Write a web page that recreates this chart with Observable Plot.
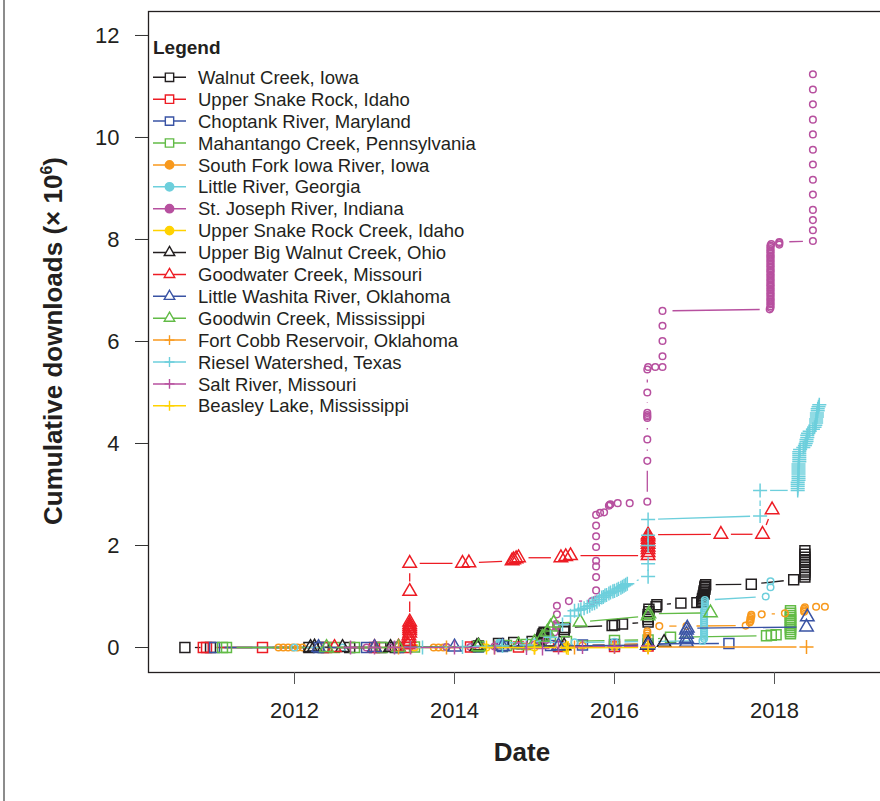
<!DOCTYPE html>
<html><head><meta charset="utf-8">
<script src="https://cdn.jsdelivr.net/npm/d3@7"></script>
<script src="https://cdn.jsdelivr.net/npm/@observablehq/plot@0.6"></script>
<style>
body{margin:0;background:#fff;overflow:hidden}
#wrap{position:relative;width:880px;height:801px;overflow:hidden}
#border{position:absolute;left:3px;top:0;width:2px;height:801px;background:#8c8c8c}
#wrap svg{overflow:hidden;display:block}
</style></head><body><div id="wrap"><div id="border"></div></div>
<script>
// ---- data (decimal year, cumulative downloads in millions) ----
const siteNames = ["Walnut Creek, Iowa","Upper Snake Rock, Idaho","Choptank River, Maryland","Mahantango Creek, Pennsylvania","South Fork Iowa River, Iowa","Little River, Georgia","St. Joseph River, Indiana","Upper Snake Rock Creek, Idaho","Upper Big Walnut Creek, Ohio","Goodwater Creek, Missouri","Little Washita River, Oklahoma","Goodwin Creek, Mississippi","Fort Cobb Reservoir, Oklahoma","Riesel Watershed, Texas","Salt River, Missouri","Beasley Lake, Mississippi"];
const siteColors = ["#231f20","#ed1c24","#3953a4","#62bb46","#f8991d","#6dcfdc","#b7509f","#ffd200","#231f20","#ed1c24","#3953a4","#62bb46","#f8991d","#6dcfdc","#b7509f","#ffd200"];
const siteSymbols = ["square","square","square","square","circle","circle","circle","circle","triangle","triangle","triangle","triangle","plus","plus","plus","plus"];
const xTicks = [2012, 2014, 2016, 2018];
const yTicks = [0, 2, 4, 6, 8, 10, 12];

const walnutCreek = [[2010.63,0],[2010.95,0],[2012.18,0],[2012.36,0],[2012.69,0],[2013.08,0],[2013.26,0],[2014.28,0.02],[2014.3,0.03],[2014.55,0.08],[2014.74,0.1],[2014.97,0.12],[2015.08,0.15],[2015.09,0.18],[2015.1,0.21],[2015.1,0.24],[2015.11,0.27],[2015.12,0.3],[2015.37,0.31],[2015.37,0.35],[2015.38,0.39],[2015.97,0.43],[2016.0,0.44],[2016.1,0.46],[2016.42,0.5],[2016.42,0.55],[2016.42,0.6],[2016.42,0.65],[2016.43,0.7],[2016.43,0.75],[2016.52,0.8],[2016.53,0.84],[2016.83,0.87],[2017.03,0.88],[2017.09,0.9],[2017.1,0.93],[2017.1,0.96],[2017.11,0.99],[2017.11,1.02],[2017.12,1.05],[2017.12,1.08],[2017.12,1.11],[2017.13,1.14],[2017.13,1.17],[2017.13,1.2],[2017.14,1.23],[2017.71,1.24],[2018.24,1.33],[2018.38,1.38],[2018.38,1.43],[2018.38,1.48],[2018.38,1.52],[2018.38,1.57],[2018.38,1.62],[2018.38,1.67],[2018.38,1.72],[2018.38,1.77],[2018.38,1.83],[2018.38,1.9]];
const upperSnakeRock = [[2010.86,0],[2010.9,0],[2011.6,0],[2012.4,0],[2013.0,0],[2013.4,0],[2014.2,0.01],[2014.8,0.01],[2015.3,0.02],[2016.0,0.02],[2016.42,0.03]];
const choptankRiver = [[2011.0,0],[2012.3,0],[2012.9,0],[2013.3,0],[2014.3,0.01],[2014.6,0.02],[2015.2,0.04],[2015.6,0.05],[2016.0,0.06],[2016.42,0.07],[2017.43,0.08]];
const mahantangoCreek = [[2011.1,0],[2011.15,0],[2012.5,0],[2012.75,0],[2013.1,0],[2013.5,0.01],[2014.3,0.02],[2014.65,0.04],[2014.9,0.06],[2015.2,0.1],[2015.4,0.12],[2016.0,0.14],[2016.42,0.15],[2016.7,0.2],[2017.9,0.23],[2017.96,0.24],[2018.02,0.25],[2018.2,0.27],[2018.2,0.31],[2018.2,0.35],[2018.2,0.39],[2018.2,0.43],[2018.2,0.47],[2018.2,0.51],[2018.2,0.55],[2018.2,0.59],[2018.2,0.63],[2018.2,0.67],[2018.2,0.72]];
const southForkIowa = [[2011.8,0],[2011.86,0],[2011.92,0],[2011.98,0],[2012.04,0],[2012.1,0],[2013.74,0],[2013.8,0],[2013.86,0],[2014.35,0.01],[2014.9,0.02],[2015.4,0.03],[2015.6,0.04],[2016.0,0.05],[2016.41,0.08],[2016.41,0.13],[2016.41,0.18],[2016.41,0.23],[2016.41,0.28],[2016.41,0.32],[2016.56,0.42],[2016.9,0.42],[2017.64,0.43],[2017.69,0.49],[2017.7,0.52],[2017.7,0.55],[2017.7,0.58],[2017.71,0.61],[2017.71,0.64],[2017.84,0.65],[2018.13,0.67],[2018.37,0.7],[2018.37,0.73],[2018.37,0.76],[2018.38,0.79],[2018.52,0.8],[2018.63,0.8]];
const littleRiver = [[2012.0,0],[2012.6,0],[2013.2,0],[2013.9,0.01],[2014.55,0.05],[2014.55,0.07],[2014.56,0.09],[2015.0,0.1],[2015.5,0.1],[2016.0,0.11],[2016.42,0.12],[2017.1,0.13],[2017.12,0.17],[2017.12,0.21],[2017.12,0.25],[2017.12,0.29],[2017.12,0.33],[2017.12,0.37],[2017.12,0.41],[2017.12,0.45],[2017.12,0.49],[2017.12,0.53],[2017.12,0.57],[2017.12,0.61],[2017.12,0.65],[2017.12,0.69],[2017.12,0.73],[2017.13,0.77],[2017.13,0.81],[2017.13,0.85],[2017.13,0.89],[2017.13,0.93],[2017.89,1.0],[2017.95,1.18],[2017.95,1.3]];
const stJosephRiver = [[2012.9,0],[2013.2,0],[2013.5,0],[2013.9,0.01],[2014.2,0.01],[2014.5,0.02],[2014.8,0.03],[2015.0,0.06],[2015.15,0.15],[2015.25,0.3],[2015.27,0.4],[2015.27,0.43],[2015.27,0.46],[2015.28,0.65],[2015.28,0.82],[2015.43,0.91],[2015.72,0.91],[2015.77,0.94],[2015.77,1.12],[2015.77,1.38],[2015.77,1.59],[2015.77,1.7],[2015.77,1.97],[2015.77,2.18],[2015.77,2.39],[2015.77,2.6],[2015.82,2.64],[2015.87,2.65],[2015.93,2.78],[2015.94,2.8],[2015.95,2.81],[2016.04,2.83],[2016.19,2.83],[2016.41,2.86],[2016.41,3.66],[2016.41,4.08],[2016.41,4.5],[2016.41,4.53],[2016.41,4.56],[2016.41,4.6],[2016.41,5.0],[2016.41,5.45],[2016.42,5.5],[2016.51,5.5],[2016.6,5.5],[2016.6,5.71],[2016.6,6.01],[2016.6,6.31],[2016.6,6.6],[2017.94,6.63],[2017.95,6.66],[2017.95,6.69],[2017.95,6.73],[2017.95,6.75],[2017.95,6.79],[2017.95,6.82],[2017.95,6.84],[2017.95,6.88],[2017.95,6.91],[2017.95,6.94],[2017.95,6.97],[2017.95,7.01],[2017.95,7.03],[2017.95,7.07],[2017.95,7.1],[2017.95,7.12],[2017.95,7.16],[2017.95,7.19],[2017.95,7.22],[2017.95,7.25],[2017.95,7.29],[2017.95,7.31],[2017.95,7.35],[2017.95,7.38],[2017.95,7.4],[2017.95,7.44],[2017.95,7.47],[2017.95,7.5],[2017.95,7.53],[2017.95,7.57],[2017.95,7.59],[2017.95,7.63],[2017.95,7.66],[2017.95,7.68],[2017.95,7.72],[2017.95,7.75],[2017.95,7.78],[2017.95,7.81],[2017.95,7.85],[2017.95,7.88],[2017.96,7.91],[2018.06,7.9],[2018.06,7.93],[2018.06,7.95],[2018.48,7.97],[2018.48,8.18],[2018.48,8.38],[2018.48,8.58],[2018.48,8.88],[2018.48,9.17],[2018.48,9.47],[2018.48,9.76],[2018.48,10.06],[2018.48,10.35],[2018.48,10.65],[2018.48,10.94],[2018.48,11.24]];
const upperSnakeRockCreek = [[2013.5,0],[2014.4,0],[2015.0,0],[2015.38,0],[2015.39,-0.02],[2015.4,0],[2016.0,0.01],[2016.41,0],[2016.42,-0.01],[2016.42,0.01]];
const upperBigWalnut = [[2012.2,0],[2012.25,0.01],[2012.6,0],[2013.2,0],[2014.28,0.02],[2014.3,0.03],[2015.37,0.03],[2016.41,0.04],[2016.42,0.08],[2016.62,0.1]];
const goodwaterCreek = [[2012.5,0],[2013.0,0],[2013.3,0.01],[2013.42,0.05],[2013.43,0.12],[2013.43,0.18],[2013.43,0.23],[2013.44,0.28],[2013.44,0.33],[2013.44,0.37],[2013.44,0.41],[2013.44,0.45],[2013.44,0.5],[2013.44,1.1],[2013.44,1.65],[2014.1,1.65],[2014.18,1.66],[2014.72,1.7],[2014.74,1.72],[2014.77,1.74],[2014.8,1.76],[2015.33,1.76],[2015.39,1.78],[2015.45,1.8],[2016.42,1.8],[2016.42,1.86],[2016.42,1.92],[2016.42,1.97],[2016.42,2.02],[2016.42,2.07],[2016.42,2.12],[2016.42,2.17],[2016.42,2.21],[2017.33,2.22],[2017.85,2.22],[2017.97,2.7]];
const littleWashita = [[2012.3,0],[2013.0,0],[2014.0,0.01],[2014.6,0.02],[2015.3,0.03],[2016.42,0.05],[2016.9,0.1],[2016.9,0.18],[2016.9,0.26],[2016.9,0.34],[2016.91,0.38],[2018.4,0.4],[2018.41,0.6]];
const goodwinCreek = [[2012.4,0],[2013.3,0],[2014.3,0.02],[2014.8,0.05],[2015.0,0.1],[2015.1,0.2],[2015.16,0.3],[2015.2,0.4],[2015.24,0.48],[2015.57,0.5],[2016.42,0.62],[2016.43,0.66],[2017.2,0.68]];
const fortCobb = [[2013.3,0],[2013.9,0],[2014.5,0],[2015.0,0],[2015.5,0],[2016.0,0.01],[2016.42,0.01],[2018.4,0.01]];
const rieselWatershed = [[2013.6,0],[2014.1,0.01],[2014.6,0.03],[2014.9,0.05],[2015.2,0.2],[2015.35,0.45],[2015.45,0.62],[2015.5,0.72],[2015.55,0.73],[2015.58,0.75],[2015.62,0.77],[2015.66,0.8],[2015.69,0.82],[2015.72,0.86],[2015.75,0.87],[2015.78,0.9],[2015.81,0.94],[2015.84,0.98],[2015.86,0.99],[2015.88,1.02],[2015.9,1.03],[2015.93,1.06],[2015.95,1.08],[2015.98,1.1],[2016.0,1.11],[2016.03,1.13],[2016.05,1.15],[2016.08,1.17],[2016.1,1.19],[2016.12,1.21],[2016.14,1.23],[2016.16,1.25],[2016.42,1.39],[2016.42,1.64],[2016.42,2.0],[2016.42,2.2],[2016.42,2.51],[2017.82,2.58],[2017.82,3.08],[2018.29,3.08],[2018.29,3.12],[2018.29,3.16],[2018.29,3.2],[2018.29,3.24],[2018.3,3.28],[2018.3,3.32],[2018.3,3.36],[2018.3,3.4],[2018.3,3.44],[2018.3,3.48],[2018.3,3.52],[2018.3,3.56],[2018.3,3.6],[2018.31,3.64],[2018.31,3.68],[2018.31,3.72],[2018.31,3.76],[2018.31,3.8],[2018.31,3.84],[2018.32,3.88],[2018.36,3.92],[2018.38,3.96],[2018.39,4.0],[2018.4,4.04],[2018.4,4.08],[2018.41,4.12],[2018.41,4.16],[2018.42,4.2],[2018.44,4.24],[2018.48,4.28],[2018.5,4.32],[2018.51,4.36],[2018.52,4.4],[2018.52,4.44],[2018.52,4.48],[2018.53,4.52],[2018.53,4.56],[2018.53,4.6],[2018.54,4.64],[2018.54,4.68],[2018.55,4.72],[2018.56,4.76]];
const saltRiver = [[2012.7,0],[2013.0,0],[2013.25,0],[2013.45,0],[2014.0,0],[2014.5,0],[2014.9,-0.01],[2015.1,-0.02],[2015.3,0],[2015.6,0.01],[2016.0,0.02],[2016.42,0.03]];
const beasleyLake = [[2014.4,0],[2015.0,0],[2015.4,0],[2015.42,-0.01],[2016.42,0]];

const seriesData = [walnutCreek, upperSnakeRock, choptankRiver, mahantangoCreek, southForkIowa, littleRiver, stJosephRiver, upperSnakeRockCreek, upperBigWalnut, goodwaterCreek, littleWashita, goodwinCreek, fortCobb, rieselWatershed, saltRiver, beasleyLake];

// ---- styling / layout ----
const W = 880, H = 801, mL = 148, mR = -16, mT = 11, mB = 129;
const xDomain = [2010.175, 2019.525], yDomain = [-0.49, 12.47];
const symbolR = {square: 5.6, circle: 3.3, triangle: 5, plus: 4.6};
const font = "'Liberation Sans', Arial, Helvetica, sans-serif";
const ink = "#231f20";
const GAP = 10; // R type="b" leaves a gap around each point

const xs = Plot.scale({x: {domain: xDomain, range: [mL, W - mR]}});
const ys = Plot.scale({y: {domain: yDomain, range: [H - mB, mT]}});

// build "type b" segments: connect consecutive points but stop short of the markers
function gappedSegments(data) {
  const segs = [];
  for (let k = 1; k < data.length; k++) {
    const [x0, y0] = [xs.apply(data[k-1][0]), ys.apply(data[k-1][1])];
    const [x1, y1] = [xs.apply(data[k][0]), ys.apply(data[k][1])];
    const dx = x1 - x0, dy = y1 - y0, d = Math.hypot(dx, dy);
    if (d <= 2 * GAP) continue;
    const ux = dx / d, uy = dy / d;
    segs.push({
      x1: xs.invert(x0 + ux * GAP), y1: ys.invert(y0 + uy * GAP),
      x2: xs.invert(x1 - ux * GAP), y2: ys.invert(y1 - uy * GAP)
    });
  }
  return segs;
}

const marks = [];
seriesData.forEach((data, i) => {
  marks.push(Plot.link(gappedSegments(data), {x1: "x1", y1: "y1", x2: "x2", y2: "y2", stroke: siteColors[i], strokeWidth: 1.3}));
  marks.push(Plot.dot(data, {x: d => d[0], y: d => d[1], symbol: () => siteSymbols[i], r: symbolR[siteSymbols[i]], stroke: siteColors[i], fill: "none", strokeWidth: 1.5}));
});

const chart = Plot.plot({
  width: W, height: H,
  marginLeft: mL, marginRight: mR, marginTop: mT, marginBottom: mB,
  x: {domain: xDomain},
  y: {domain: yDomain},
  symbol: {type: "identity"},
  style: {fontFamily: font, fontSize: "22px", color: ink, background: "white"},
  marks: [
    ...marks,
    Plot.frame({stroke: ink, strokeWidth: 1.3}),
    Plot.axisX({ticks: xTicks, tickFormat: d => String(d), tickSize: 12, tickPadding: 18, label: null, stroke: "#555", fontSize: 22}),
    Plot.axisY({ticks: yTicks, tickSize: 13, tickPadding: 16, label: null, stroke: "#333", fontSize: 22})
  ]
});
document.getElementById("wrap").appendChild(chart);

const svg = d3.select(chart);
// axis titles
svg.append("text").attr("x", 522).attr("y", 760.5).attr("text-anchor", "middle")
  .attr("font-family", font).attr("font-weight", "bold").attr("font-size", 26).attr("fill", ink).text("Date");
const yl = svg.append("text").attr("transform", "translate(62,341) rotate(-90)").attr("text-anchor", "middle")
  .attr("font-family", font).attr("font-weight", "bold").attr("font-size", 26).attr("fill", ink);
yl.append("tspan").text("Cumulative downloads (× 10");
yl.append("tspan").attr("font-size", 16).attr("dy", -10).text("6");
yl.append("tspan").attr("dy", 10).text(")");

// legend
const lg = svg.append("g").attr("font-family", font).attr("fill", ink).attr("text-anchor", "start");
lg.append("text").attr("x", 153).attr("y", 54).attr("font-weight", "bold").attr("font-size", 19).text("Legend");
const legendSym = {square: [d3.symbolSquare, 4.7, false], circle: [d3.symbolCircle, 4.2, true], triangle: [d3.symbolTriangle, 3.9, false], plus: [d3.symbolPlus, 3.3, false]};
siteNames.forEach((name, i) => {
  const y = 77.3 + i * 21.9;
  const g = lg.append("g").attr("transform", `translate(0,${y})`);
  g.append("line").attr("x1", 153).attr("x2", 186).attr("y1", 0).attr("y2", 0).attr("stroke", siteColors[i]).attr("stroke-width", 1.5);
  const [sym, r, filled] = legendSym[siteSymbols[i]];
  g.append("path").attr("transform", "translate(169.5,0)").attr("d", d3.symbol(sym, Math.PI * r * r)())
    .attr("fill", filled ? siteColors[i] : (siteSymbols[i] === "plus" ? "none" : "white")).attr("stroke", siteColors[i]).attr("stroke-width", 1.4);
  g.append("text").attr("x", 198).attr("y", 0).attr("dy", "0.36em").attr("font-size", 18.5).text(name);
});
</script>
</body></html>
